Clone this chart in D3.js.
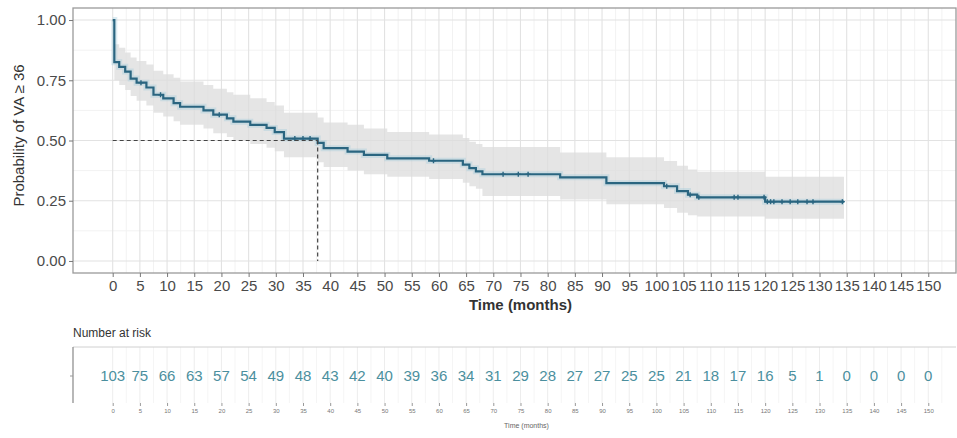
<!DOCTYPE html>
<html><head><meta charset="utf-8">
<script src="https://cdn.jsdelivr.net/npm/d3@7"></script>
<style>
body{margin:0;background:#fff;}
svg{display:block;font-family:"Liberation Sans",Arial,sans-serif;}
</style></head>
<body><svg id="c" width="957" height="438"></svg>
<script>
// ---- data ----
const stepTimes = [0, 0.3, 1.2, 2.3, 3.3, 4.4, 6.2, 7.5, 9.3, 11.2, 12.4, 16.7, 18.5, 21.0, 22.2, 25.3, 28.3, 29.8, 31.5, 37.7, 38.8, 43.2, 46.2, 50.5, 58.2, 64.4, 65.6, 66.8, 68.0, 82.3, 90.8, 101.4, 103.8, 105.8, 107.5, 120.0];
const survival  = [1.00, 0.825, 0.806, 0.786, 0.757, 0.740, 0.720, 0.690, 0.675, 0.655, 0.640, 0.625, 0.607, 0.592, 0.578, 0.565, 0.552, 0.535, 0.508, 0.490, 0.468, 0.454, 0.440, 0.426, 0.416, 0.400, 0.385, 0.372, 0.360, 0.347, 0.323, 0.310, 0.290, 0.275, 0.264, 0.246];
const upperCI   = [1.00, 0.90, 0.885, 0.865, 0.845, 0.83, 0.815, 0.79, 0.775, 0.76, 0.745, 0.73, 0.715, 0.70, 0.69, 0.675, 0.66, 0.645, 0.615, 0.595, 0.575, 0.565, 0.55, 0.535, 0.525, 0.51, 0.495, 0.485, 0.473, 0.45, 0.43, 0.415, 0.395, 0.38, 0.37, 0.35];
const lowerCI   = [1.00, 0.75, 0.73, 0.71, 0.685, 0.665, 0.645, 0.615, 0.60, 0.58, 0.565, 0.55, 0.53, 0.515, 0.50, 0.485, 0.47, 0.455, 0.43, 0.41, 0.39, 0.375, 0.36, 0.35, 0.34, 0.325, 0.31, 0.30, 0.27, 0.255, 0.235, 0.22, 0.20, 0.19, 0.185, 0.175];
const lastTime = 134.5;
const censorTimes = [5.2, 8.8, 19.6, 33.5, 35.0, 36.3, 59.0, 71.8, 74.6, 76.4, 101.9, 106.2, 107.8, 114.3, 115.0, 119.8, 120.4, 121.0, 121.6, 123.1, 124.6, 126.0, 127.7, 128.8, 134.2];
const medianTime = 37.7;
const medianSurv = 0.5;
const xTicks = d3.range(0, 151, 5);
const yTicks = [0, 0.25, 0.5, 0.75, 1.0];
const riskTimes = d3.range(0, 151, 5);
const atRisk = [103, 75, 66, 63, 57, 54, 49, 48, 43, 42, 40, 39, 36, 34, 31, 29, 28, 27, 27, 25, 25, 21, 18, 17, 16, 5, 1, 0, 0, 0, 0];
const yTitle = "Probability of VA \u2265 36";
const xTitle = "Time (months)";
const riskTitle = "Number at risk";

// ---- layout ----
const svg = d3.select("#c");
const L = 73, R = 956, T = 8, B = 273;
const x = d3.scaleLinear().domain([-7.3, 155.1]).range([L, R]);
const y = d3.scaleLinear().domain([-0.05, 1.05]).range([B, T]);
const lineColor = "#2A6580";

// grid
const g = svg.append("g");
const minorX = d3.range(2.5, 155, 5);
const minorY = [0.125, 0.375, 0.625, 0.875];
g.selectAll(".mx").data(minorX).join("line").attr("x1", d => x(d)).attr("x2", d => x(d)).attr("y1", T).attr("y2", B).attr("stroke", "#F2F2F2").attr("stroke-width", 1);
g.selectAll(".my").data(minorY).join("line").attr("x1", L).attr("x2", R).attr("y1", d => y(d)).attr("y2", d => y(d)).attr("stroke", "#F2F2F2");
g.selectAll(".Mx").data(xTicks).join("line").attr("x1", d => x(d)).attr("x2", d => x(d)).attr("y1", T).attr("y2", B).attr("stroke", "#E2E2E2").attr("stroke-width", 1.1);
g.selectAll(".My").data(yTicks).join("line").attr("x1", L).attr("x2", R).attr("y1", d => y(d)).attr("y2", d => y(d)).attr("stroke", "#E2E2E2").attr("stroke-width", 1.1);

// ribbon and line
const pts = stepTimes.map((t, i) => ({t, s: survival[i], u: upperCI[i], l: lowerCI[i]}));
pts.push({t: lastTime, s: survival[survival.length - 1], u: upperCI[upperCI.length - 1], l: lowerCI[lowerCI.length - 1]});
svg.append("path").datum(pts)
  .attr("d", d3.area().curve(d3.curveStepAfter).x(d => x(d.t)).y0(d => y(d.l)).y1(d => y(d.u)))
  .attr("fill", "#DCDCDC").attr("fill-opacity", 0.75);
svg.append("path").datum(pts)
  .attr("d", d3.line().curve(d3.curveStepAfter).x(d => x(d.t)).y(d => y(d.s)))
  .attr("fill", "none").attr("stroke", "#9CC9DA").attr("stroke-width", 6).attr("stroke-opacity", 0.35);
svg.append("path").datum(pts)
  .attr("d", d3.line().curve(d3.curveStepAfter).x(d => x(d.t)).y(d => y(d.s)))
  .attr("fill", "none").attr("stroke", lineColor).attr("stroke-width", 2.2);

// censor marks
const bis = d3.bisector(d => d).right;
const survAt = t => survival[Math.max(0, bis(stepTimes, t) - 1)];
const cm = svg.append("g").attr("stroke", lineColor).attr("stroke-width", 1.4);
censorTimes.forEach(t => {
  const cx = x(t), cy = y(survAt(t));
  cm.append("line").attr("x1", cx - 2.5).attr("x2", cx + 2.5).attr("y1", cy).attr("y2", cy);
  cm.append("line").attr("x1", cx).attr("x2", cx).attr("y1", cy - 2.5).attr("y2", cy + 2.5);
});

// median lines
svg.append("line").attr("x1", x(0)).attr("x2", x(medianTime)).attr("y1", y(medianSurv)).attr("y2", y(medianSurv))
  .attr("stroke", "#444").attr("stroke-width", 1.2).attr("stroke-dasharray", "4,3");
svg.append("line").attr("x1", x(medianTime)).attr("x2", x(medianTime)).attr("y1", y(medianSurv)).attr("y2", y(0))
  .attr("stroke", "#444").attr("stroke-width", 1.2).attr("stroke-dasharray", "4,3");

// panel border
svg.append("rect").attr("x", L).attr("y", T).attr("width", R - L).attr("height", B - T)
  .attr("fill", "none").attr("stroke", "#9A9A9A").attr("stroke-width", 1.3);

// axes
const ax = svg.append("g").attr("transform", `translate(0,${B})`)
  .call(d3.axisBottom(x).tickValues(xTicks).tickSize(4).tickPadding(3).tickFormat(d3.format("d")));
ax.select(".domain").remove();
ax.selectAll("line").attr("stroke", "#777");
ax.selectAll("text").attr("font-size", 15).attr("fill", "#4A4A4A").attr("font-family", "Liberation Sans, Arial, sans-serif");
const ay = svg.append("g").attr("transform", `translate(${L},0)`)
  .call(d3.axisLeft(y).tickValues(yTicks).tickSize(4).tickPadding(3).tickFormat(d3.format(".2f")));
ay.select(".domain").remove();
ay.selectAll("line").attr("stroke", "#777");
ay.selectAll("text").attr("font-size", 15).attr("fill", "#4A4A4A").attr("font-family", "Liberation Sans, Arial, sans-serif");

svg.append("text").attr("x", (L + R) / 2 + 6).attr("y", 310).attr("text-anchor", "middle")
  .attr("font-size", 15).attr("font-weight", 600).attr("fill", "#333").text(xTitle);
svg.append("text").attr("transform", `translate(24,${(T + B) / 2 - 5}) rotate(-90)`).attr("text-anchor", "middle")
  .attr("font-size", 15).attr("fill", "#333").text(yTitle);

// ---- risk table ----
const RT = 347, RB = 403;
svg.append("text").attr("x", L).attr("y", 337).attr("font-size", 12).attr("fill", "#333").text(riskTitle);
const rg = svg.append("g");
rg.selectAll(".rmx").data(minorX).join("line").attr("x1", d => x(d)).attr("x2", d => x(d)).attr("y1", RT).attr("y2", RB).attr("stroke", "#F5F5F5");
rg.selectAll(".rMx").data(riskTimes).join("line").attr("x1", d => x(d)).attr("x2", d => x(d)).attr("y1", RT).attr("y2", RB).attr("stroke", "#EDEDED");
svg.append("line").attr("x1", L).attr("x2", R).attr("y1", RT).attr("y2", RT).attr("stroke", "#D0D0D0");
svg.append("line").attr("x1", L).attr("x2", L).attr("y1", RT).attr("y2", RB).attr("stroke", "#888").attr("stroke-width", 1.2);
svg.append("line").attr("x1", L - 3).attr("x2", L).attr("y1", 376).attr("y2", 376).attr("stroke", "#999");
svg.append("g").selectAll("text").data(riskTimes).join("text")
  .attr("x", d => x(d)).attr("y", 381).attr("text-anchor", "middle")
  .attr("font-size", 15).attr("fill", "#4B8F9E").text((d, i) => atRisk[i]);
const rax = svg.append("g").attr("transform", `translate(0,${RB})`)
  .call(d3.axisBottom(x).tickValues(riskTimes).tickSize(3).tickPadding(3).tickFormat(d3.format("d")));
rax.select(".domain").remove();
rax.selectAll("line").attr("stroke", "#999");
rax.selectAll("text").attr("font-size", 6).attr("fill", "#777");
svg.append("text").attr("x", (L + R) / 2 + 12).attr("y", 428).attr("text-anchor", "middle")
  .attr("font-size", 7).attr("fill", "#666").text(xTitle);
</script></body></html>
